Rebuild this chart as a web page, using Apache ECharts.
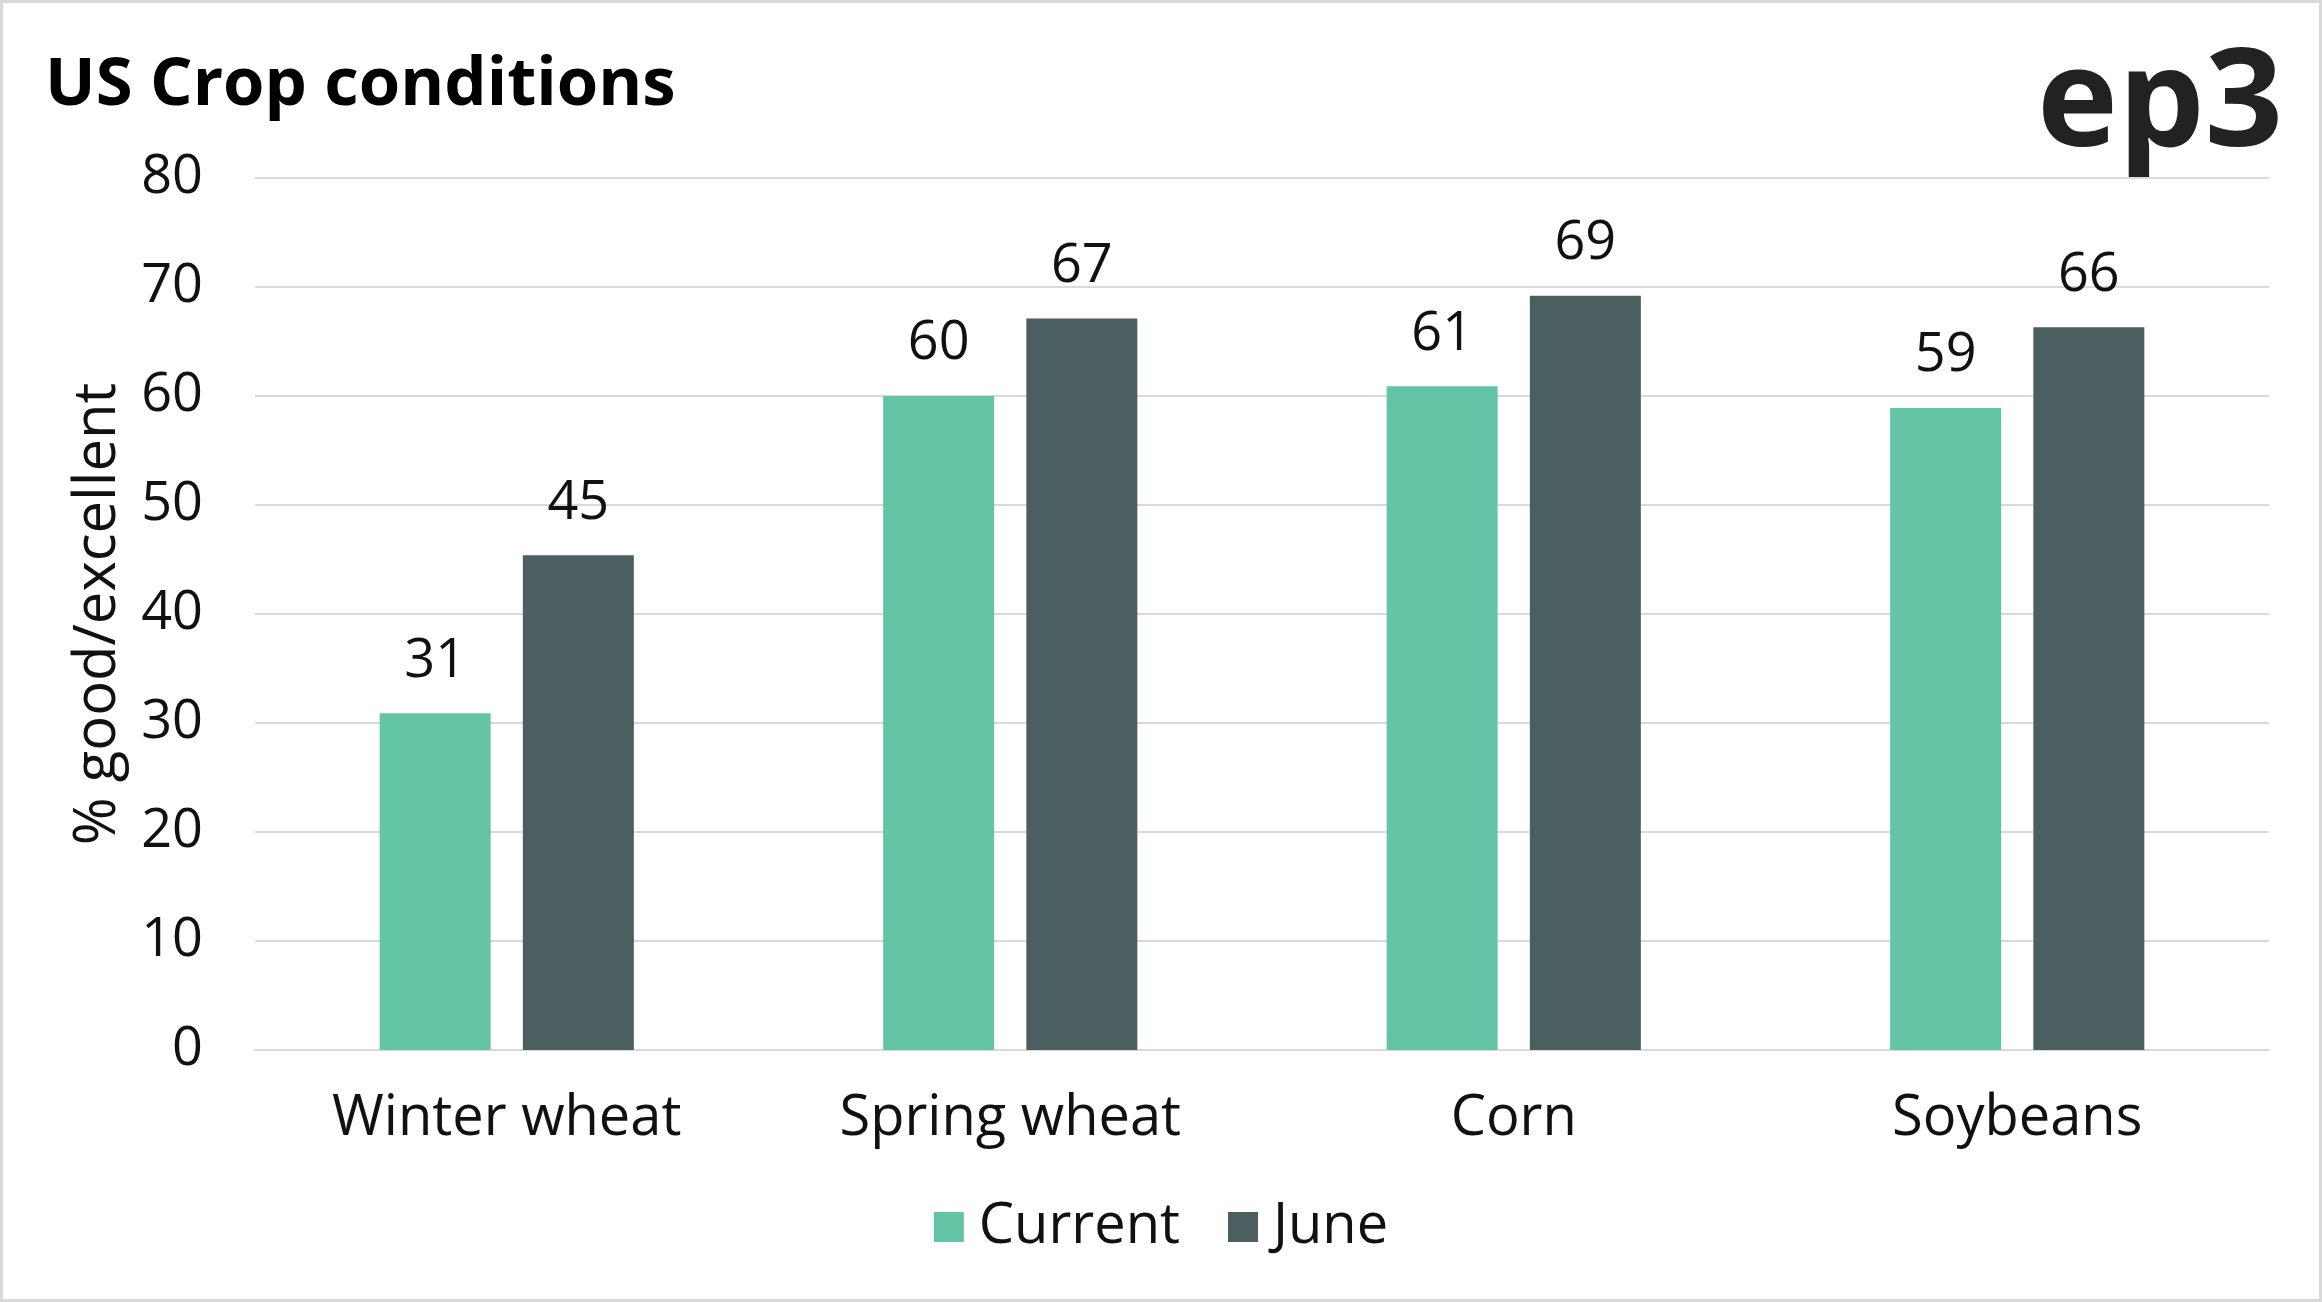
<!DOCTYPE html>
<html>
<head>
<meta charset="utf-8">
<script src="https://cdn.jsdelivr.net/npm/echarts@6/dist/echarts.min.js"></script>
<style>
html,body{margin:0;padding:0;background:#fff;}
#chart{width:2322px;height:1302px;}
</style>
</head>
<body>
<div id="chart"></div>
<script>
const categories = ['Winter wheat', 'Spring wheat', 'Corn', 'Soybeans'];
const currentValues = [30.9, 60.0, 60.9, 58.9];
const juneValues = [45.4, 67.1, 69.2, 66.3];
const seriesNames = ['Current', 'June'];
const titleText = 'US Crop conditions';
const yAxisName = '% good/excellent';
const logoText = 'ep3';

const FONT = '"Open Sans", "DejaVu Sans", sans-serif';
const chart = echarts.init(document.getElementById('chart'), null, {renderer: 'canvas'});

const labelOpt = {
  show: true,
  position: 'top',
  distance: 25,
  color: '#111',
  fontFamily: FONT,
  fontSize: 54,
  lineHeight: 54,
  formatter: p => Math.round(p.value)
};

chart.setOption({
  backgroundColor: '#ffffff',
  animation: false,
  title: {
    text: titleText,
    left: 40,
    top: 47,
    textStyle: {fontFamily: FONT, fontSize: 67, fontWeight: 'bold', color: '#000', lineHeight: 67}
  },
  graphic: [
    {
      type: 'rect',
      shape: {x: 1.5, y: 1.5, width: 2319, height: 1299},
      style: {fill: 'none', stroke: '#d9d9d9', lineWidth: 3},
      silent: true
    },
    {
      type: 'text',
      x: 2283, y: 107,
      style: {
        text: logoText, fontFamily: FONT, fontSize: 137, fontWeight: 'bold',
        fill: '#222', align: 'right', verticalAlign: 'middle', letterSpacing: -8
      }
    }
  ],
  legend: {
    data: seriesNames,
    left: 'center',
    top: 1194,
    itemWidth: 30,
    itemHeight: 30,
    itemGap: 48,
    icon: 'rect',
    textStyle: {fontFamily: FONT, fontSize: 56, color: '#111', lineHeight: 56, padding: [0, 0, 0, 10]}
  },
  grid: {left: 255, right: 53, top: 178, bottom: 252, containLabel: false},
  xAxis: {
    type: 'category',
    data: categories,
    axisLine: {show: true, lineStyle: {color: '#d9d9d9', width: 2}},
    axisTick: {show: false},
    axisLabel: {fontFamily: FONT, fontSize: 56, lineHeight: 56, color: '#111', margin: 41}
  },
  yAxis: {
    type: 'value',
    min: 0, max: 80, interval: 10,
    name: yAxisName,
    nameLocation: 'middle',
    nameGap: 128,
    nameTextStyle: {fontFamily: FONT, fontSize: 58, color: '#111'},
    axisLine: {show: false},
    axisTick: {show: false},
    splitLine: {lineStyle: {color: '#d9d9d9', width: 2}},
    axisLabel: {fontFamily: FONT, fontSize: 54, color: '#111', margin: 52}
  },
  series: [
    {
      name: seriesNames[0], type: 'bar', data: currentValues,
      barWidth: 111, barGap: '29%',
      itemStyle: {color: '#63C5A5'},
      label: labelOpt
    },
    {
      name: seriesNames[1], type: 'bar', data: juneValues,
      barWidth: 111,
      itemStyle: {color: '#4B5F61'},
      label: labelOpt
    }
  ]
});
</script>
</body>
</html>
